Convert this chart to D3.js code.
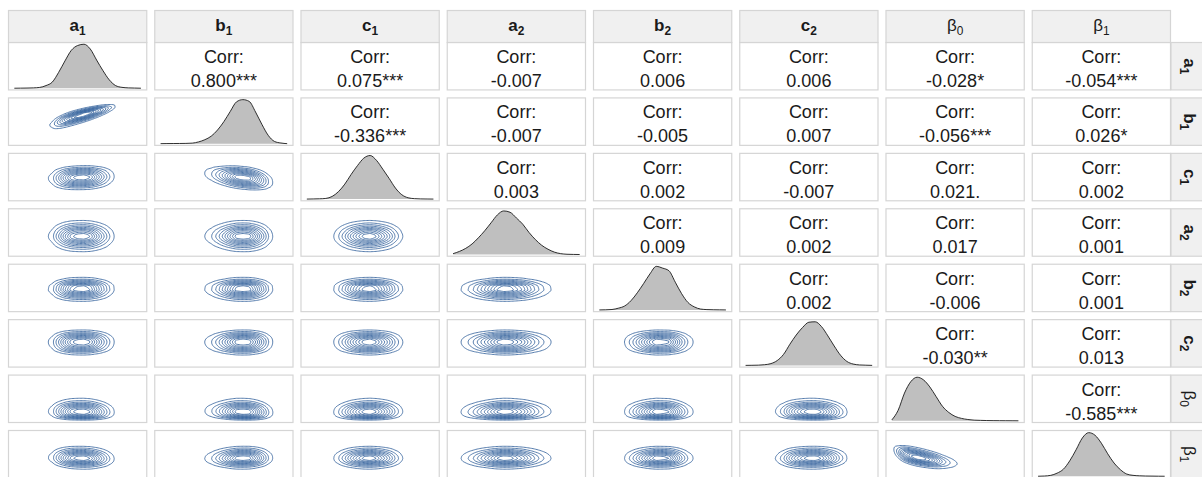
<!DOCTYPE html>
<html>
<head>
<meta charset="utf-8">
<script src="https://cdn.jsdelivr.net/npm/d3@7"></script>
<style>
  html, body { margin: 0; padding: 0; background: #ffffff; }
  svg { display: block; font-family: "Liberation Sans", Arial, sans-serif; }
</style>
</head>
<body>
<svg id="chart" width="1202" height="477"></svg>
<script>
// Variable names, drawn as base letter + subscript
const labelBase = ["a", "b", "c", "a", "b", "c", "β", "β"];
const labelSub  = ["1", "1", "1", "2", "2", "2", "0", "1"];

// Marginal densities (relative height) on an even grid across each variable's range
const densityA1 = [0.000, 0.002, 0.004, 0.008, 0.018, 0.060, 0.140, 0.360, 0.620, 0.860, 0.970, 1.000, 0.890, 0.640, 0.400, 0.190, 0.060, 0.020, 0.008, 0.004, 0.000];
const densityB1 = [0.000, 0.002, 0.003, 0.004, 0.006, 0.012, 0.040, 0.090, 0.170, 0.310, 0.500, 0.730, 0.950, 1.000, 0.960, 0.720, 0.440, 0.190, 0.050, 0.015, 0.000];
const densityC1 = [0.000, 0.003, 0.006, 0.015, 0.060, 0.170, 0.340, 0.560, 0.760, 0.930, 0.990, 0.880, 0.680, 0.470, 0.250, 0.100, 0.030, 0.010, 0.004, 0.002, 0.000];
const densityA2 = [0.020, 0.070, 0.140, 0.240, 0.380, 0.540, 0.720, 0.900, 0.990, 0.960, 0.830, 0.690, 0.500, 0.340, 0.210, 0.120, 0.055, 0.020, 0.006, 0.002, 0.000];
const densityB2 = [0.000, 0.003, 0.010, 0.040, 0.090, 0.210, 0.390, 0.600, 0.820, 0.990, 0.950, 0.890, 0.630, 0.370, 0.170, 0.070, 0.020, 0.008, 0.004, 0.002, 0.000];
const densityC2 = [0.000, 0.002, 0.005, 0.015, 0.040, 0.110, 0.250, 0.480, 0.690, 0.860, 0.980, 0.990, 0.880, 0.670, 0.440, 0.230, 0.090, 0.030, 0.010, 0.004, 0.000];
const densityBeta0 = [0.020, 0.240, 0.630, 0.890, 0.990, 0.930, 0.770, 0.550, 0.330, 0.190, 0.100, 0.055, 0.030, 0.015, 0.010, 0.006, 0.004, 0.003, 0.002, 0.001, 0.000];
const densityBeta1 = [0.000, 0.005, 0.020, 0.070, 0.160, 0.350, 0.600, 0.870, 0.990, 0.930, 0.750, 0.510, 0.300, 0.150, 0.050, 0.020, 0.010, 0.005, 0.003, 0.001, 0.000];
const densities = [densityA1, densityB1, densityC1, densityA2, densityB2, densityC2, densityBeta0, densityBeta1];

// Pairwise correlations, upper triangle row by row (row i lists columns i+1 .. 7)
const corrValues = [
  [0.800, 0.075, -0.007, 0.006, 0.006, -0.028, -0.054],
  [-0.336, -0.007, -0.005, 0.007, -0.056, 0.026],
  [0.003, 0.002, -0.007, 0.021, 0.002],
  [0.009, 0.002, 0.017, 0.001],
  [0.002, -0.006, 0.001],
  [-0.030, 0.013],
  [-0.585]
];
const corrStars = [
  ["***", "***", "", "", "", "*", "***"],
  ["***", "", "", "", "***", "*"],
  ["", "", "", ".", ""],
  ["", "", "", ""],
  ["", "", ""],
  ["**", ""],
  ["***"]
];

// Contour levels as fractions of each panel's peak joint density
const contourLevels = [0.09, 0.18, 0.27, 0.36, 0.45, 0.54, 0.63, 0.72, 0.81, 0.90];

// ---- layout ----
const nVar = labelBase.length;
const gridLeft = 8, gridTopStrip = 10, stripH = 32, stripW = 32;
const colStep = 146.25, rowStep = 55.43, gap = 7;
const panelW = colStep - gap, panelH = rowStep - gap;
const gridTop = gridTopStrip + stripH;
const colX = i => gridLeft + i * colStep;
const rowY = i => gridTop + i * rowStep;

const borderColor = "#d5d5d5";
const stripFill = "#f0f0f0";
const textColor = "#1a1a1a";

const svg = d3.select("#chart");
svg.append("rect").attr("width", 1202).attr("height", 477).attr("fill", "#ffffff");

function corr(i, j) {            // i < j
  return corrValues[i][j - i - 1];
}
function stars(i, j) {
  return corrStars[i][j - i - 1];
}

// Linear read-off of a density array at position t in [0,1]
function densityAt(arr, t) {
  if (t <= 0) return arr[0];
  if (t >= 1) return arr[arr.length - 1];
  const p = t * (arr.length - 1);
  const k = Math.min(Math.floor(p), arr.length - 2);
  const f = p - k;
  return arr[k] * (1 - f) + arr[k + 1] * f;
}

// Cumulative distribution of a density array
function makeCdf(arr) {
  const steps = 400;
  const cum = [0];
  let prev = densityAt(arr, 0), acc = 0;
  for (let s = 1; s <= steps; s++) {
    const v = densityAt(arr, s / steps);
    acc += (prev + v) / 2;
    cum.push(acc);
    prev = v;
  }
  return t => {
    const p = Math.max(0, Math.min(1, t)) * steps;
    const k = Math.min(Math.floor(p), steps - 1);
    const f = p - k;
    return (cum[k] * (1 - f) + cum[k + 1] * f) / acc;
  };
}

// Inverse standard normal CDF (rational approximation)
function probit(p) {
  const a = [-3.969683028665376e+01, 2.209460984245205e+02, -2.759285104469687e+02, 1.383577518672690e+02, -3.066479806614716e+01, 2.506628277459239e+00];
  const b = [-5.447609879822406e+01, 1.615858368580409e+02, -1.556989798598866e+02, 6.680131188771972e+01, -1.328068155288572e+01];
  const c = [-7.784894002430293e-03, -3.223964580411365e-01, -2.400758277161838e+00, -2.549732539343734e+00, 4.374664141464968e+00, 2.938163982698783e+00];
  const d = [7.784695709041462e-03, 3.224671290700398e-01, 2.445134137142996e+00, 3.754408661907416e+00];
  const pl = 0.02425;
  if (p < pl) {
    const q = Math.sqrt(-2 * Math.log(p));
    return (((((c[0]*q+c[1])*q+c[2])*q+c[3])*q+c[4])*q+c[5]) / ((((d[0]*q+d[1])*q+d[2])*q+d[3])*q+1);
  }
  if (p > 1 - pl) {
    const q = Math.sqrt(-2 * Math.log(1 - p));
    return -(((((c[0]*q+c[1])*q+c[2])*q+c[3])*q+c[4])*q+c[5]) / ((((d[0]*q+d[1])*q+d[2])*q+d[3])*q+1);
  }
  const q = p - 0.5, r = q * q;
  return (((((a[0]*r+a[1])*r+a[2])*r+a[3])*r+a[4])*r+a[5])*q / (((((b[0]*r+b[1])*r+b[2])*r+b[3])*r+b[4])*r+1);
}

const cdfs = densities.map(makeCdf);

// Panel scales: each variable spans [0,1] with ggplot-style 5% expansion
function xScaleFor(col) {
  return d3.scaleLinear().domain([-0.05, 1.05]).range([colX(col), colX(col) + panelW]);
}
function yScaleFor(row) {
  return d3.scaleLinear().domain([-0.05, 1.05]).range([rowY(row) + panelH, rowY(row)]);
}

const defs = svg.append("defs");

// ---- panels ----
for (let i = 0; i < nVar; i++) {
  for (let j = 0; j < nVar; j++) {
    const px = colX(j), py = rowY(i);
    const g = svg.append("g");
    g.append("rect").attr("x", px).attr("y", py).attr("width", panelW).attr("height", panelH)
      .attr("fill", "#ffffff");

    const clipId = `clip-${i}-${j}`;
    defs.append("clipPath").attr("id", clipId)
      .append("rect").attr("x", px).attr("y", py).attr("width", panelW).attr("height", panelH);

    if (i === j) {
      // diagonal: marginal density
      const arr = densities[i];
      const n = arr.length;
      const x = xScaleFor(j);
      const y = yScaleFor(i);
      const area = d3.area()
        .x((d, k) => x(k / (n - 1))).y0(y(0)).y1(d => y(d))
        .curve(d3.curveMonotoneX);
      const line = d3.line()
        .x((d, k) => x(k / (n - 1))).y(d => y(d))
        .curve(d3.curveMonotoneX);
      const gd = g.append("g").attr("clip-path", `url(#${clipId})`);
      gd.append("path").attr("d", area(arr)).attr("fill", "#bfbfbf");
      gd.append("path").attr("d", line(arr)).attr("fill", "none")
        .attr("stroke", "#1a1a1a").attr("stroke-width", 0.9);
    } else if (i < j) {
      // upper: correlation text
      const cx = px + panelW / 2;
      const t = g.append("text").attr("text-anchor", "middle").attr("fill", textColor)
        .attr("font-size", 18);
      t.append("tspan").attr("x", cx).attr("y", py + 21).text("Corr:");
      t.append("tspan").attr("x", cx).attr("y", py + 45)
        .text(corr(i, j).toFixed(3) + stars(i, j));
    } else {
      // lower: 2-d density contours (x = column variable, y = row variable)
      const r = corr(j, i);
      const fx = densities[j], fy = densities[i];
      const Fx = cdfs[j], Fy = cdfs[i];
      const nx = 96, ny = 48;
      const values = new Float64Array(nx * ny);
      const zx = d3.range(nx).map(gx => probit(Math.min(0.995, Math.max(0.005, Fx(gx / (nx - 1))))));
      const zy = d3.range(ny).map(gy => probit(Math.min(0.995, Math.max(0.005, Fy(1 - gy / (ny - 1))))));
      const dx = d3.range(nx).map(gx => densityAt(fx, gx / (nx - 1)));
      const dy = d3.range(ny).map(gy => densityAt(fy, 1 - gy / (ny - 1)));
      const k1 = 1 / Math.sqrt(1 - r * r), k2 = 2 * (1 - r * r);
      let vmax = 0;
      for (let gy = 0; gy < ny; gy++) {
        for (let gx = 0; gx < nx; gx++) {
          const a = zx[gx], b = zy[gy];
          const cop = k1 * Math.exp(-(r * r * (a * a + b * b) - 2 * r * a * b) / k2);
          const v = dx[gx] * dy[gy] * cop;
          values[gy * nx + gx] = v;
          if (v > vmax) vmax = v;
        }
      }
      const contours = d3.contours().size([nx, ny])
        .thresholds(contourLevels.map(l => l * vmax))(values);
      const x = xScaleFor(j), y = yScaleFor(i);
      const gxScale = d3.scaleLinear().domain([0.5, nx - 0.5]).range([x(0), x(1)]);
      const gyScale = d3.scaleLinear().domain([0.5, ny - 0.5]).range([y(1), y(0)]);
      const proj = d3.geoTransform({
        point(a, b) { this.stream.point(gxScale(a), gyScale(b)); }
      });
      const path = d3.geoPath(proj);
      g.append("g").attr("clip-path", `url(#${clipId})`)
        .selectAll("path").data(contours).join("path")
        .attr("d", path).attr("fill", "none")
        .attr("stroke", "#2f5f9a").attr("stroke-width", 0.95)
        .attr("stroke-opacity", 0.85).attr("stroke-linejoin", "round");
    }

    g.append("rect").attr("x", px + 0.5).attr("y", py + 0.5)
      .attr("width", panelW - 1).attr("height", panelH - 1)
      .attr("fill", "none").attr("stroke", borderColor).attr("stroke-width", 1.2);
  }
}

// ---- strips ----
function addLabel(sel, k, size) {
  const bold = labelBase[k] !== "β";
  sel.attr("font-weight", bold ? "bold" : "normal");
  sel.append("tspan").attr("font-size", size).text(labelBase[k]);
  sel.append("tspan").attr("font-size", size * 0.7).attr("dy", size * 0.24).text(labelSub[k]);
}

for (let j = 0; j < nVar; j++) {
  const sx = colX(j);
  svg.append("rect").attr("x", sx + 0.5).attr("y", gridTopStrip + 0.5)
    .attr("width", panelW - 1).attr("height", stripH)
    .attr("fill", stripFill).attr("stroke", borderColor).attr("stroke-width", 1.2);
  const t = svg.append("text").attr("x", sx + panelW / 2).attr("y", gridTopStrip + 21)
    .attr("text-anchor", "middle").attr("fill", textColor);
  addLabel(t, j, 17);
}

const stripX = colX(nVar - 1) + panelW;
for (let i = 0; i < nVar; i++) {
  const sy = rowY(i);
  svg.append("rect").attr("x", stripX).attr("y", sy + 0.5)
    .attr("width", stripW).attr("height", panelH - 1)
    .attr("fill", stripFill).attr("stroke", borderColor).attr("stroke-width", 1.2);
  const cx = stripX + stripW / 2 - 3, cy = sy + panelH / 2;
  const t = svg.append("text").attr("transform", `translate(${cx},${cy}) rotate(90)`)
    .attr("text-anchor", "middle").attr("fill", textColor);
  addLabel(t, i, 17);
}
</script>
</body>
</html>
